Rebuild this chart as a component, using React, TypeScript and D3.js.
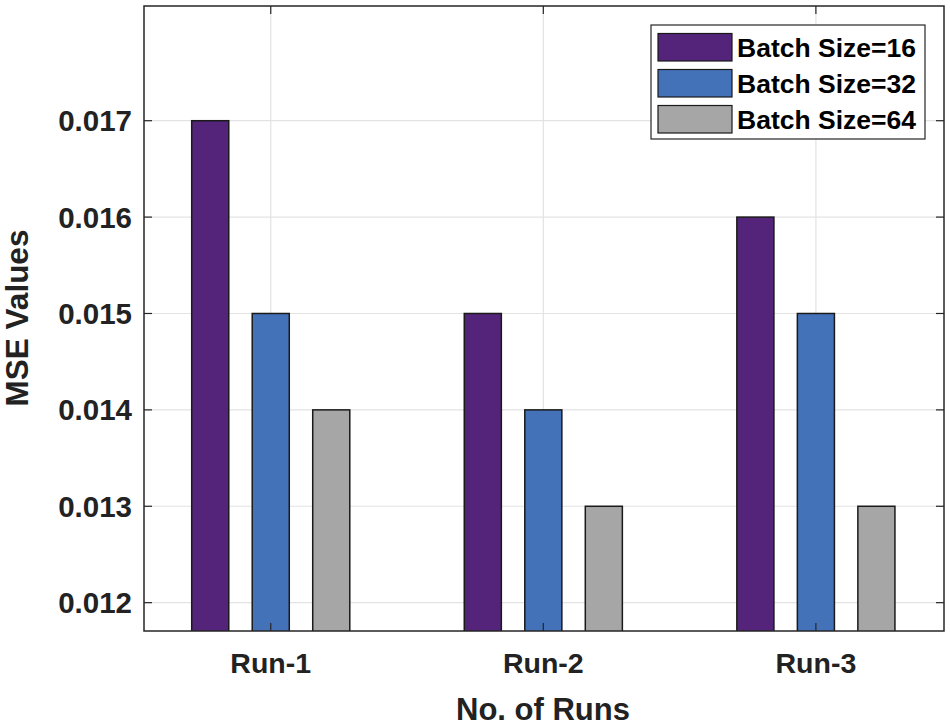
import React from "react";
import * as d3 from "d3";

const categories = ["Run-1", "Run-2", "Run-3"];
const seriesNames = ["Batch Size=16", "Batch Size=32", "Batch Size=64"];
const batch16 = [0.017, 0.015, 0.016];
const batch32 = [0.015, 0.014, 0.015];
const batch64 = [0.014, 0.013, 0.013];
const yTicks = [0.012, 0.013, 0.014, 0.015, 0.016, 0.017];
const colors = ["#54237a", "#4472b9", "#a6a6a6"];

const W = 950;
const H = 726;
const left = 144;
const right = 944;
const top = 6;
const bottom = 631;

export default function App() {
  const series = [batch16, batch32, batch64];
  const x = d3.scaleLinear().domain([0.535, 3.47]).range([left, right]);
  const y = d3.scaleLinear().domain([0.011706, 0.01819]).range([bottom, top]);
  const offset = 0.222;
  const bw = 0.136;
  const font = "'Liberation Sans', Arial, Helvetica, sans-serif";
  const axisColor = "#262626";
  const legX = 651, legY = 25, legW = 274, legH = 114;

  return (
    <svg width={W} height={H} style={{ position: "absolute", left: 0, top: 0, background: "#fff" }} fontFamily={font}>
      <defs>
        <clipPath id="plotClip">
          <rect x={left} y={top} width={right - left} height={bottom - top} />
        </clipPath>
      </defs>
      <rect x={left} y={top} width={right - left} height={bottom - top} fill="#fff" />
      {yTicks.map((t) => (
        <line key={"gy" + t} x1={left} x2={right} y1={y(t)} y2={y(t)} stroke="#e3e3e3" strokeWidth={1.2} />
      ))}
      {categories.map((c, i) => (
        <line key={"gx" + c} x1={x(i + 1)} x2={x(i + 1)} y1={top} y2={bottom} stroke="#e3e3e3" strokeWidth={1.2} />
      ))}
      <g clipPath="url(#plotClip)">
        {series.map((s, si) =>
          s.map((v, ci) => {
            const cx = ci + 1 + (si - 1) * offset;
            const x0 = x(cx - bw / 2);
            const x1 = x(cx + bw / 2);
            return (
              <rect
                key={si + "-" + ci}
                x={x0}
                y={y(v)}
                width={x1 - x0}
                height={bottom + 10 - y(v)}
                fill={colors[si]}
                stroke="#1a1a1a"
                strokeWidth={1.5}
              />
            );
          })
        )}
      </g>
      {yTicks.map((t) => (
        <g key={"ty" + t}>
          <line x1={left} x2={left + 8} y1={y(t)} y2={y(t)} stroke={axisColor} strokeWidth={1.2} />
          <line x1={right} x2={right - 8} y1={y(t)} y2={y(t)} stroke={axisColor} strokeWidth={1.2} />
          <text x={left - 12} y={y(t)} dy="0.36em" textAnchor="end" fontSize={29.5} fontWeight="bold" fill="#222">
            {t.toFixed(3)}
          </text>
        </g>
      ))}
      {categories.map((c, i) => (
        <g key={"tx" + c}>
          <line x1={x(i + 1)} x2={x(i + 1)} y1={bottom} y2={bottom - 8} stroke={axisColor} strokeWidth={1.2} />
          <line x1={x(i + 1)} x2={x(i + 1)} y1={top} y2={top + 8} stroke={axisColor} strokeWidth={1.2} />
          <text x={x(i + 1)} y={673} textAnchor="middle" fontSize={28.5} fontWeight="bold" fill="#222">
            {c}
          </text>
        </g>
      ))}
      <rect x={left} y={top} width={right - left} height={bottom - top} fill="none" stroke={axisColor} strokeWidth={1.5} />
      <text x={543} y={720} textAnchor="middle" fontSize={31} fontWeight="bold" fill="#222">
        No. of Runs
      </text>
      <text transform={`translate(28,318) rotate(-90)`} textAnchor="middle" fontSize={31.5} fontWeight="bold" fill="#222">
        MSE Values
      </text>
      <rect x={legX} y={legY} width={legW} height={legH} fill="#fff" stroke="#262626" strokeWidth={1.2} />
      {seriesNames.map((n, i) => (
        <g key={n}>
          <rect x={658} y={33.5 + i * 36} width={74} height={27.5} fill={colors[i]} stroke="#1a1a1a" strokeWidth={1.2} />
          <text x={737} y={47.5 + i * 36} dy="0.36em" fontSize={26.5} fontWeight="bold" fill="#000">
            {n}
          </text>
        </g>
      ))}
    </svg>
  );
}
